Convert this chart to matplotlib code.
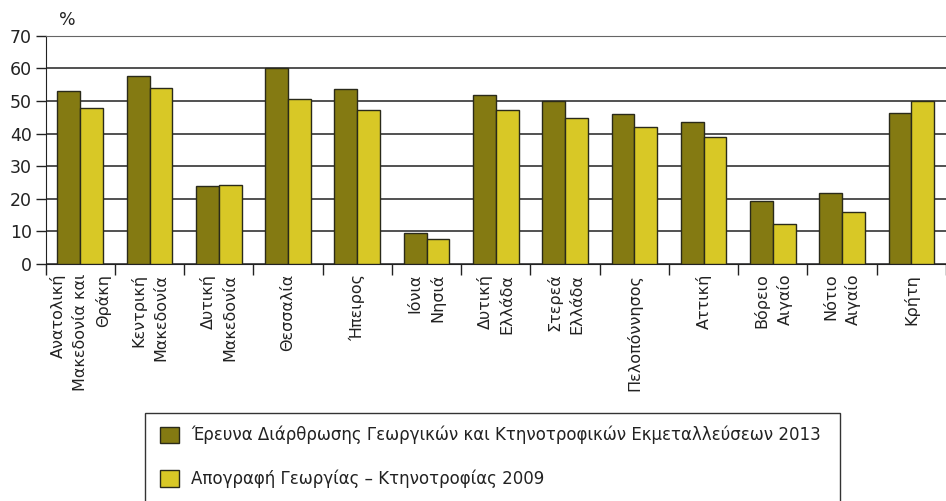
import numpy as np
import matplotlib.pyplot as plt
from matplotlib.patches import Rectangle

plt.rcParams['font.family'] = ['DejaVu Sans']

regions = ["Ανατολική\nΜακεδονία και\nΘράκη", "Κεντρική\nΜακεδονία", "Δυτική\nΜακεδονία",
           "Θεσσαλία", "Ήπειρος", "Ιόνια\nΝησιά", "Δυτική\nΕλλάδα", "Στερεά\nΕλλάδα",
           "Πελοπόννησος", "Αττική", "Βόρειο\nΑιγαίο", "Νότιο\nΑιγαίο", "Κρήτη"]
survey_2013 = [52.9, 57.7, 23.8, 60.2, 53.6, 9.4, 51.7, 50.0, 46.0, 43.6, 19.2, 21.9, 46.2]
census_2009 = [47.9, 54.0, 24.2, 50.7, 47.2, 7.8, 47.2, 44.9, 42.1, 39.0, 12.2, 16.0, 49.9]
labels = ["Έρευνα Διάρθρωσης Γεωργικών και Κτηνοτροφικών Εκμεταλλεύσεων 2013",
          "Απογραφή Γεωργίας – Κτηνοτροφίας 2009"]
colors = ['#847a12', '#d8c826']

fig = plt.figure(figsize=(9.46, 5.01), dpi=100)
W, H = 946, 501
ax = fig.add_axes([45.7 / W, 1 - 264 / H, (W - 45.7) / W, (264 - 35.7) / H])

x = np.arange(len(regions))
w = 0.33
b1 = ax.bar(x - w / 2, survey_2013, w, color=colors[0], edgecolor='#2a2a1a', linewidth=1, zorder=3, label=labels[0])
b2 = ax.bar(x + w / 2, census_2009, w, color=colors[1], edgecolor='#2a2a1a', linewidth=1, zorder=3, label=labels[1])

ax.set_ylim(0, 70)
ax.set_xlim(-0.5, 12.4)
ax.set_yticks(range(0, 71, 10))
ax.yaxis.grid(True, color='#222222', linewidth=1.1, zorder=0)
ax.tick_params(axis='y', length=7, width=1, color='#222222', labelsize=12.5, pad=3, labelcolor='#222222')

ax.set_xticks(x)
ax.set_xticklabels(regions, rotation=90, fontsize=11.5, va='top', ha='center',
                   multialignment='right', linespacing=1.55, color='#222222')
ax.set_xticks(np.arange(-0.5, 13, 1), minor=True)
ax.tick_params(axis='x', which='major', length=0, pad=7)
ax.tick_params(axis='x', which='minor', length=8, width=1, color='#222222')

ax.spines['right'].set_visible(False)
ax.spines['top'].set_color('#666666')
ax.spines['left'].set_color('#222222')
ax.spines['bottom'].set_color('#222222')

fig.text(67 / W, 1 - 20 / H, '%', fontsize=12.5, ha='center', va='center', color='#222222')

# legend frame (open at the bottom, cut by the figure edge)
fig.patches.append(Rectangle((144.5 / W, -0.05), (840 - 144.5) / W, 0.05 + 1 - 413 / H,
                             transform=fig.transFigure, fill=False, edgecolor='#333333', linewidth=1))
fig.legend(handles=[b1, b2], labels=labels, loc='upper left', bbox_to_anchor=(145 / W, 1 - 411 / H),
           frameon=False, fontsize=12.0, handlelength=1.15, handleheight=1.15, handletextpad=0.7,
           labelspacing=1.5, labelcolor='#222222')

fig.savefig('out.png', dpi=100)
